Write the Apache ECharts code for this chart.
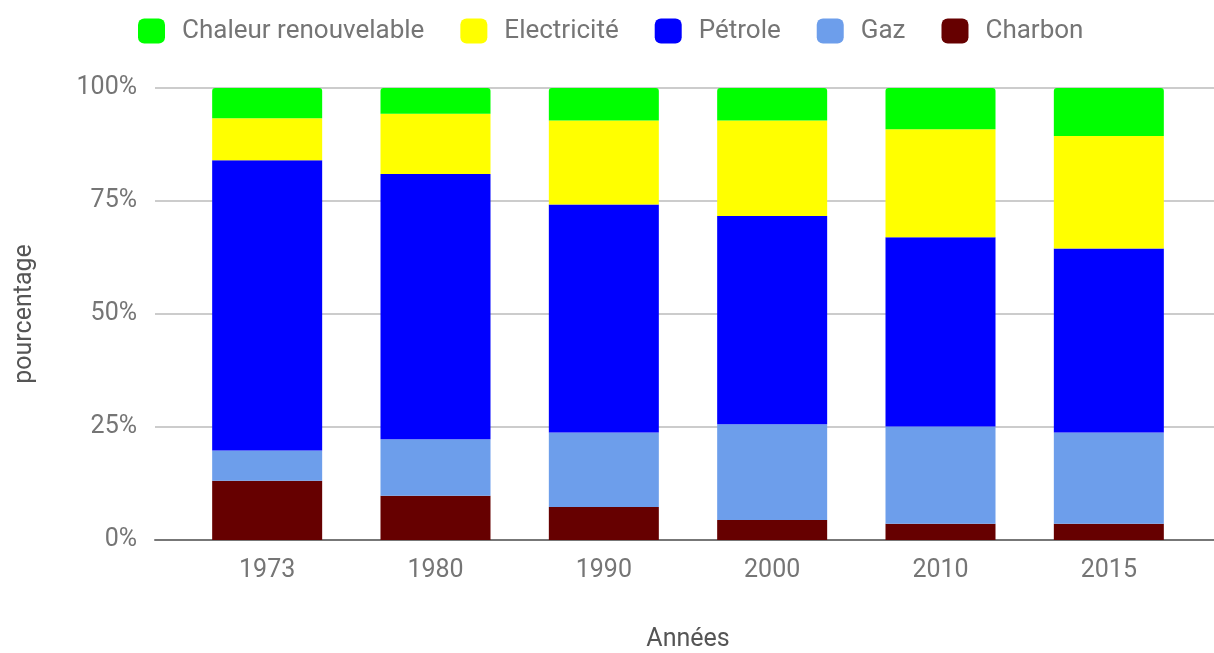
<!DOCTYPE html>
<html>
<head>
<meta charset="utf-8">
<script src="https://cdn.jsdelivr.net/npm/echarts@6/dist/echarts.min.js"></script>
<style>html,body{margin:0;padding:0;background:#fff}#c{width:1214px;height:653px}</style>
</head>
<body>
<div id="c"></div>
<script>
const categories = ['1973', '1980', '1990', '2000', '2010', '2015'];
const charbon = [13.1, 9.8, 7.3, 4.4, 3.6, 3.6];
const gaz = [6.7, 12.5, 16.5, 21.2, 21.5, 20.2];
const petrole = [64.2, 58.7, 50.4, 46.1, 41.9, 40.7];
const electricite = [9.3, 13.3, 18.6, 21.1, 23.9, 24.9];
const chaleur = [6.7, 5.7, 7.2, 7.2, 9.1, 10.6];
const legendOrder = ['Chaleur renouvelable', 'Electricité', 'Pétrole', 'Gaz', 'Charbon'];
const yTicks = [0, 25, 50, 75, 100];

const grey = '#757575';
const font = 'Roboto';
const chart = echarts.init(document.getElementById('c'));

function bar(name, data, color, top) {
  return {
    name: name, type: 'bar', stack: 'total', data: data,
    xAxisIndex: 0, yAxisIndex: 0, barWidth: 110,
    itemStyle: { color: color, borderRadius: top ? [3, 3, 0, 0] : 0 }
  };
}

chart.setOption({
  animation: false,
  textStyle: { fontFamily: font },
  legend: {
    data: legendOrder, top: 18, left: 138, padding: 0,
    itemWidth: 27, itemHeight: 25, itemGap: 36, icon: 'roundRect',
    textStyle: { fontFamily: font, fontSize: 26, color: grey, padding: [0, 0, 0, 12] }
  },
  grid: [
    { left: 183, right: 21, top: 88, bottom: 113, outerBoundsMode: 'none', containLabel: false },
    { left: 155, right: 0, top: 88, bottom: 113, outerBoundsMode: 'none', containLabel: false }
  ],
  xAxis: [
    {
      type: 'category', data: categories, gridIndex: 0,
      axisLine: { show: false }, axisTick: { show: false },
      axisLabel: { fontFamily: font, fontSize: 25, color: grey, margin: 18 },
      name: 'Années', nameLocation: 'middle', nameGap: 87,
      nameTextStyle: { fontFamily: font, fontSize: 25, color: '#555' }
    },
    {
      type: 'value', gridIndex: 1, min: 0, max: 1,
      axisLine: { show: true, onZero: false, lineStyle: { color: '#777', width: 2 } },
      axisTick: { show: false }, axisLabel: { show: false }, splitLine: { show: false }
    }
  ],
  yAxis: [
    {
      type: 'value', gridIndex: 0, min: 0, max: 100, interval: 25,
      axisLine: { show: false }, axisTick: { show: false },
      axisLabel: { show: false }, splitLine: { show: false }
    },
    {
      type: 'value', gridIndex: 1, min: yTicks[0], max: yTicks[yTicks.length - 1], interval: 25,
      axisLine: { show: false }, axisTick: { show: false },
      axisLabel: { fontFamily: font, fontSize: 25, color: grey, margin: 18, formatter: '{value}%' },
      splitLine: { lineStyle: { color: '#cccccc', width: 2 } },
      name: 'pourcentage', nameLocation: 'middle', nameGap: 118,
      nameTextStyle: { fontFamily: font, fontSize: 25, color: '#555' }
    }
  ],
  series: [
    bar('Charbon', charbon, '#660000', false),
    bar('Gaz', gaz, '#6d9eeb', false),
    bar('Pétrole', petrole, '#0000ff', false),
    bar('Electricité', electricite, '#ffff00', false),
    bar('Chaleur renouvelable', chaleur, '#00ff00', true),
    { type: 'line', xAxisIndex: 1, yAxisIndex: 1, data: [], silent: true }
  ]
});
</script>
</body>
</html>
